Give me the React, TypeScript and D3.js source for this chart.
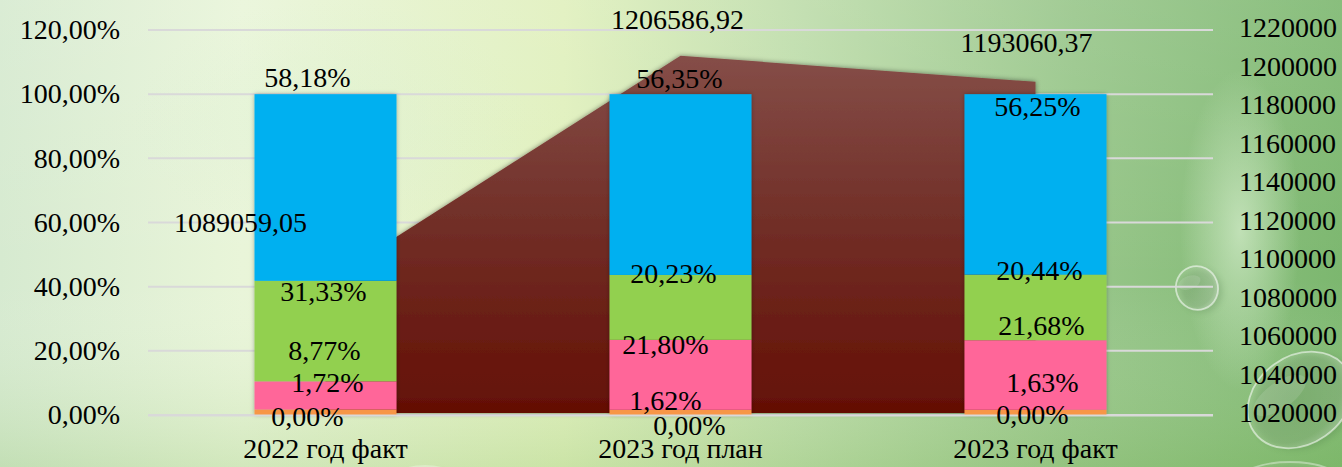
import React from "react";
import * as d3 from "d3";

const categories = ["2022 год факт", "2023 год план", "2023 год факт"];
const seriesZero = [0, 0, 0];
const seriesOrange = [1.72, 1.62, 1.63];
const seriesPink = [8.77, 21.8, 21.68];
const seriesGreen = [31.33, 20.23, 20.44];
const seriesBlue = [58.18, 56.35, 56.25];
const totals = [1089059.05, 1206586.92, 1193060.37];
const leftTicks = [0, 20, 40, 60, 80, 100, 120];
const rightTicks = [1020000, 1040000, 1060000, 1080000, 1100000, 1120000, 1140000, 1160000, 1180000, 1200000, 1220000];

const seriesKeys = ["zero", "orange", "pink", "green", "blue"];
const seriesColors: Record<string, string> = {
  zero: "#c0504d",
  orange: "#f79646",
  pink: "#ff6699",
  green: "#92d050",
  blue: "#00b0f0",
};
// manual label nudges (px) relative to each segment top, [category][series] -> [dx, dy]
const labelNudge: [number, number][][] = [
  [[-18, 2], [2, -27], [-1, -31], [-2, 11], [-18, -16]],
  [[9, 11], [-15, -9], [-15, 5], [-7, -1], [-1, -15]],
  [[-3, 0], [7, -27], [6, -14], [4, -4], [2, 13]],
];
const totalNudge: [number, number][] = [[-85, -59], [-3, -36], [-9, -39]];

const W = 1342;
const H = 467;
const FONT = "'Liberation Serif', 'Times New Roman', serif";

const fmtPct = (v: number) => d3.format(".2f")(v).replace(".", ",") + "%";
const fmtNum = (v: number) => d3.format(".2f")(v).replace(".", ",");
const fmtTick = (v: number) => d3.format(".2f")(v).replace(".", ",") + "%";

function Droplet({ cx, cy, rx, ry, rot, op = 1 }: { cx: number; cy: number; rx: number; ry: number; rot: number; op?: number }) {
  return (
    <g transform={`translate(${cx} ${cy}) rotate(${rot})`} opacity={op}>
      <ellipse cx={3} cy={4} rx={rx} ry={ry} fill="#2f5a2a" opacity={0.18} filter="url(#blur3)" />
      <ellipse cx={0} cy={0} rx={rx} ry={ry} fill="url(#drop)" />
      <ellipse cx={0} cy={0} rx={rx} ry={ry} fill="none" stroke="#ffffff" strokeOpacity={0.55} strokeWidth={1.8} />
      <ellipse cx={-rx * 0.25} cy={-ry * 0.35} rx={rx * 0.55} ry={ry * 0.3} fill="#ffffff" opacity={0.12} />
    </g>
  );
}

export default function App() {
  const x = d3.scaleBand<string>().domain(categories).range([148, 1213]).paddingInner(0.6).paddingOuter(0.3);
  const yL = d3.scaleLinear().domain([0, 120]).range([415, 30]);
  const yR = d3.scaleLinear().domain([1020000, 1220000]).range([415, 30]);
  const bw = x.bandwidth();
  const cx = (c: string) => (x(c) as number) + bw / 2;

  const rows = categories.map((c, i) => ({
    cat: c,
    zero: seriesZero[i],
    orange: seriesOrange[i],
    pink: seriesPink[i],
    green: seriesGreen[i],
    blue: seriesBlue[i],
  }));
  const stacked = d3.stack<any>().keys(seriesKeys)(rows);

  const areaGen = d3
    .area<number>()
    .x((_, i) => cx(categories[i]))
    .y0(yR(1020000) - 2)
    .y1((d) => yR(d));
  const areaPath = areaGen(totals) || "";

  return (
    <svg
      width={W}
      height={H}
      style={{ position: "absolute", left: 0, top: 0, display: "block" }}
      fontFamily={FONT}
    >
      <defs>
        <linearGradient id="bgH" x1="0" x2="1" y1="0" y2="0">
          <stop offset="0" stopColor="#d6ead0" />
          <stop offset="0.18" stopColor="#e9f5d9" />
          <stop offset="0.42" stopColor="#e0f0bd" />
          <stop offset="0.6" stopColor="#bddcaa" />
          <stop offset="0.8" stopColor="#98c68a" />
          <stop offset="1" stopColor="#7cb76f" />
        </linearGradient>
        <linearGradient id="bgV" x1="0" x2="0" y1="0" y2="1">
          <stop offset="0" stopColor="#ffffff" stopOpacity="0.1" />
          <stop offset="0.6" stopColor="#ffffff" stopOpacity="0" />
          <stop offset="1" stopColor="#7fb855" stopOpacity="0.22" />
        </linearGradient>
        <radialGradient id="glow" cx="0.5" cy="0.5" r="0.5">
          <stop offset="0" stopColor="#d8efcf" stopOpacity="0.7" />
          <stop offset="1" stopColor="#d8efcf" stopOpacity="0" />
        </radialGradient>
        <linearGradient id="areaGrad" x1="0" x2="0" gradientUnits="userSpaceOnUse" y1={yR(1210000)} y2={yR(1020000)}>
          <stop offset="0" stopColor="#864f49" />
          <stop offset="0.45" stopColor="#723029" />
          <stop offset="1" stopColor="#640f04" />
        </linearGradient>
        <radialGradient id="drop" cx="0.45" cy="0.45" r="0.6">
          <stop offset="0" stopColor="#ffffff" stopOpacity="0.04" />
          <stop offset="0.75" stopColor="#ffffff" stopOpacity="0.1" />
          <stop offset="1" stopColor="#ffffff" stopOpacity="0.3" />
        </radialGradient>
        <filter id="blur3" x="-30%" y="-30%" width="160%" height="160%">
          <feGaussianBlur stdDeviation="3" />
        </filter>
        <filter id="shadow" x="-10%" y="-10%" width="120%" height="120%">
          <feDropShadow dx="0" dy="0" stdDeviation="2.5" floodColor="#000" floodOpacity="0.45" />
        </filter>
        <filter id="barShadow" x="-10%" y="-10%" width="120%" height="120%">
          <feDropShadow dx="0" dy="0" stdDeviation="2" floodColor="#000" floodOpacity="0.3" />
        </filter>
      </defs>

      {/* background */}
      <rect x={0} y={0} width={W} height={H} fill="url(#bgH)" />
      <rect x={0} y={0} width={W} height={H} fill="url(#bgV)" />
      <ellipse cx={1240} cy={230} rx={60} ry={160} fill="url(#glow)" />
      <ellipse cx={330} cy={120} rx={200} ry={120} fill="url(#glow)" opacity={0.5} />

      {/* droplets */}
      <Droplet cx={1197} cy={288} rx={21} ry={22} rot={-20} />
      <Droplet cx={1300} cy={400} rx={56} ry={44} rot={-35} />
      <Droplet cx={1290} cy={482} rx={52} ry={20} rot={0} op={0.7} />
      <Droplet cx={425} cy={478} rx={30} ry={12} rot={0} op={0.5} />

      {/* gridlines */}
      {leftTicks.map((t) => (
        <line key={"g" + t} x1={148} x2={1213} y1={yL(t)} y2={yL(t)} stroke="#d9d9d9" strokeWidth={2} />
      ))}

      {/* area */}
      <path d={areaPath} fill="url(#areaGrad)" filter="url(#shadow)" />

      {/* bars */}
      <g filter="url(#barShadow)">
        {stacked.map((s) =>
          s.map((d, i) => {
            const h = yL(d[0]) - yL(d[1]);
            if (h <= 0) return null;
            return (
              <rect
                key={s.key + i}
                x={x(categories[i])}
                y={yL(d[1])}
                width={bw}
                height={h}
                fill={seriesColors[s.key]}
              />
            );
          })
        )}
      </g>

      {/* zero axis line */}
      <line x1={148} x2={1213} y1={yL(0) + 0.5} y2={yL(0) + 0.5} stroke="#d9d9d9" strokeWidth={2} />

      {/* left axis labels */}
      {leftTicks.map((t) => (
        <text key={"l" + t} x={120} y={yL(t)} dy="0.33em" textAnchor="end" fontSize={28} fill="#000">
          {fmtTick(t)}
        </text>
      ))}
      {/* right axis labels */}
      {rightTicks.map((t) => (
        <text key={"r" + t} x={1239} y={yR(t) - 2} dy="0.33em" textAnchor="start" fontSize={28} fill="#000">
          {t}
        </text>
      ))}

      {/* category labels */}
      {categories.map((c) => (
        <text key={"c" + c} x={cx(c)} y={449} dy="0.33em" textAnchor="middle" fontSize={28} fill="#000">
          {c}
        </text>
      ))}

      {/* segment labels */}
      {stacked.map((s, si) =>
        s.map((d, i) => (
          <text
            key={"sl" + s.key + i}
            x={cx(categories[i]) + labelNudge[i][si][0]}
            y={yL(d[1]) + labelNudge[i][si][1]}
            dy="0.33em"
            textAnchor="middle"
            fontSize={28}
            fill="#000"
          >
            {fmtPct(d[1] - d[0])}
          </text>
        ))
      )}

      {/* total labels */}
      {totals.map((v, i) => (
        <text
          key={"t" + i}
          x={cx(categories[i]) + totalNudge[i][0]}
          y={yR(v) + totalNudge[i][1]}
          dy="0.33em"
          textAnchor="middle"
          fontSize={28}
          fill="#000"
        >
          {fmtNum(v)}
        </text>
      ))}
    </svg>
  );
}
